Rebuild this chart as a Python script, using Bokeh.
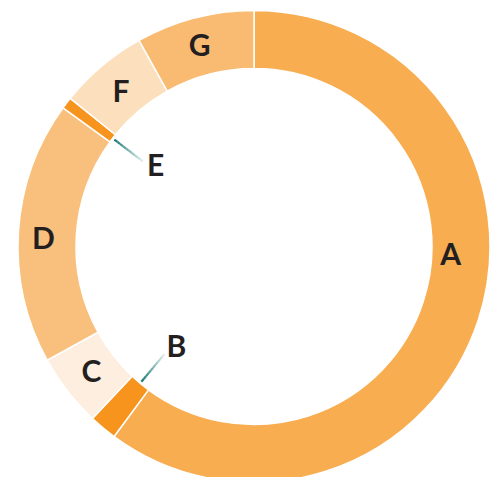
import numpy as np
from bokeh.plotting import figure
from bokeh.models import Range1d, ColumnDataSource
from bokeh.core.properties import value
from bokeh.embed import file_html
from bokeh.resources import INLINE

# ---- data ----
categories = ["A", "B", "C", "D", "E", "F", "G"]
shares = [60.1, 1.9, 5.0, 18.0, 0.8, 6.1, 8.1]
colors = ["#F8AD51", "#F7941D", "#FDEEDF", "#F9C07D", "#F7941D", "#FCDFBC", "#F9BB72"]

# ---- layout (pixel-like data units, centre at 0,0) ----
W, H = 492, 477
R_OUT, R_IN = 236, 178
R_LABEL = 207
R_OUTSIDE_LABEL = 127
SMALL = 2.0  # shares below this get an inner label with a leader line
# small per-label placement nudges in screen px (right, down)
label_nudge = [(-10, -4), (1, -1), (1, -3.5), (-4, 3.5), (4.5, -8), (0.5, 2), (-2.3, -2)]

p = figure(width=W, height=H, output_backend="svg", toolbar_location=None,
           x_range=Range1d(-253.5, 238.5), y_range=Range1d(-231, 246),
           min_border=0)
p.axis.visible = False
p.grid.visible = False
p.outline_line_color = None
p.background_fill_color = "white"

total = float(sum(shares))
cum = np.cumsum([0.0] + list(shares)) / total * 360.0
start_deg = cum[:-1]
end_deg = cum[1:]

src = ColumnDataSource(dict(
    start=np.radians(90 - start_deg),
    end=np.radians(90 - end_deg),
    color=colors,
))
p.annular_wedge(x=0, y=0, inner_radius=R_IN, outer_radius=R_OUT,
                start_angle="start", end_angle="end", direction="clock",
                fill_color="color", line_color="white", line_width=1.5,
                source=src)

font = value("Lato")
lx, ly, lt = [], [], []
for i, cat in enumerate(categories):
    mid = (start_deg[i] + end_deg[i]) / 2.0
    if shares[i] < SMALL:
        th = np.radians(mid)
        # leader line with fading gradient
        n = 10
        rs = np.linspace(176, 140, n + 1)
        for k in range(n):
            a = 1.0 - 0.85 * k / (n - 1)
            p.line([rs[k] * np.sin(th), rs[k + 1] * np.sin(th)],
                   [rs[k] * np.cos(th), rs[k + 1] * np.cos(th)],
                   line_color="#1F7D75", line_width=2.2, line_alpha=a)
        r = R_OUTSIDE_LABEL
        ang = mid - 1.5
    else:
        r = R_LABEL
        ang = mid if cat != "A" else 93.0
    th = np.radians(ang)
    dx, dy = label_nudge[i]
    lx.append(r * np.sin(th) + dx)
    ly.append(r * np.cos(th) - dy)
    lt.append(cat)

p.text(x=lx, y=ly, text=lt, text_font=font, text_font_style="bold",
       text_font_size="30px", text_color="#231F20",
       text_align="center", text_baseline="middle")

open("out.html", "w").write(file_html(p, INLINE))
